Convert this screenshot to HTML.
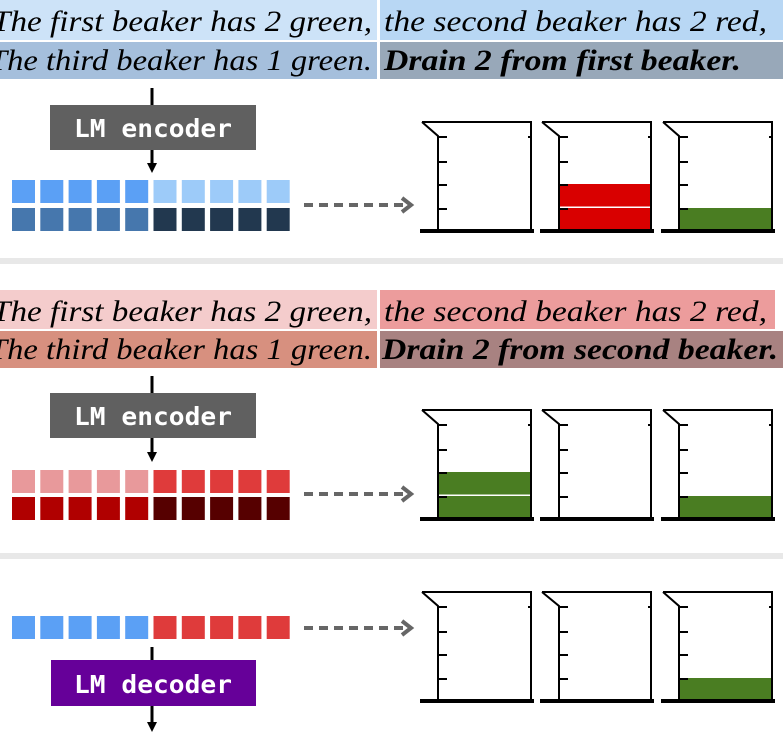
<!DOCTYPE html>
<html><head><meta charset="utf-8">
<style>
html,body{margin:0;padding:0;background:#fff;width:783px;height:744px;overflow:hidden}
svg{display:block}
.t{font-family:"Liberation Serif","Times New Roman",Times,"Noto Serif CJK SC",serif;font-style:italic;font-size:30px;fill:#000}
.b{font-weight:bold}
.box{font-family:"DejaVu Sans Mono","Liberation Mono",monospace;font-weight:bold;font-size:25px;fill:#fff}
</style></head>
<body>
<svg id="fig" width="783" height="744" viewBox="0 0 783 744" xmlns="http://www.w3.org/2000/svg">
<defs>
<marker id="ah" markerWidth="10" markerHeight="10" refX="5" refY="5" orient="auto" markerUnits="userSpaceOnUse">
<path d="M0,0 L10,5 L0,10 z" fill="#000"/></marker>
</defs>
<rect x="0" y="258" width="783" height="6" fill="#e8e8e8"/>
<rect x="0" y="553" width="783" height="6" fill="#e8e8e8"/>

<g>
<rect x="0" y="0" width="377" height="40" fill="#cde3f8"/>
<rect x="380" y="0" width="403" height="40" fill="#b8d7f4"/>
<rect x="0" y="42" width="377" height="37" fill="#a5bfdc"/>
<rect x="380" y="42" width="403" height="37" fill="#98a8b9"/>
<text class="t" x="-8" y="31" textLength="380" lengthAdjust="spacingAndGlyphs">The first beaker has 2 green,</text>
<text class="t" x="384" y="31" textLength="383" lengthAdjust="spacingAndGlyphs">the second beaker has 2 red,</text>
<text class="t" x="-11" y="70" textLength="383" lengthAdjust="spacingAndGlyphs">The third beaker has 1 green.</text>
<text class="t b" x="384" y="70" textLength="357" lengthAdjust="spacingAndGlyphs">Drain 2 from first beaker.</text>
</g>
<g>
<rect x="0" y="290" width="377" height="39" fill="#f4cccc"/>
<rect x="380" y="290" width="395" height="39" fill="#ec9c9c"/>
<rect x="0" y="331" width="377" height="37" fill="#d7907f"/>
<rect x="380" y="331" width="403" height="37" fill="#a88281"/>
<text class="t" x="-8" y="321" textLength="380" lengthAdjust="spacingAndGlyphs">The first beaker has 2 green,</text>
<text class="t" x="384" y="321" textLength="383" lengthAdjust="spacingAndGlyphs">the second beaker has 2 red,</text>
<text class="t" x="-11" y="359" textLength="383" lengthAdjust="spacingAndGlyphs">The third beaker has 1 green.</text>
<text class="t b" x="382" y="359" textLength="396" lengthAdjust="spacingAndGlyphs">Drain 2 from second beaker.</text>
</g>

<line x1="152" y1="88" x2="152" y2="105" stroke="#000" stroke-width="3"/>
<rect x="50" y="105" width="206" height="45" fill="#606060"/>
<text class="box" x="74" y="137" textLength="158" lengthAdjust="spacingAndGlyphs">LM encoder</text>
<line x1="152" y1="150" x2="152" y2="168" stroke="#000" stroke-width="3" marker-end="url(#ah)"/>

<line x1="152" y1="376" x2="152" y2="393" stroke="#000" stroke-width="3"/>
<rect x="50" y="393" width="206" height="45" fill="#606060"/>
<text class="box" x="74" y="425" textLength="158" lengthAdjust="spacingAndGlyphs">LM encoder</text>
<line x1="152" y1="438" x2="152" y2="457" stroke="#000" stroke-width="3" marker-end="url(#ah)"/>

<line x1="152" y1="647" x2="152" y2="660" stroke="#000" stroke-width="3"/>
<rect x="51" y="660" width="205" height="46" fill="#660099"/>
<text class="box" x="74" y="693" textLength="158" lengthAdjust="spacingAndGlyphs">LM decoder</text>
<line x1="152" y1="706" x2="152" y2="727" stroke="#000" stroke-width="3" marker-end="url(#ah)"/>

<g id="dyn"></g>
</svg>
<script>
const NS="http://www.w3.org/2000/svg";
const g=document.getElementById('dyn');
function el(t,a){const e=document.createElementNS(NS,t);for(const k in a)e.setAttribute(k,a[k]);g.appendChild(e);return e;}
const p1Row1=["#5ba0f5","#5ba0f5","#5ba0f5","#5ba0f5","#5ba0f5","#9dcbf9","#9dcbf9","#9dcbf9","#9dcbf9","#9dcbf9"];
const p1Row2=["#4677ad","#4677ad","#4677ad","#4677ad","#4677ad","#22384f","#22384f","#22384f","#22384f","#22384f"];
const p2Row1=["#e8999b","#e8999b","#e8999b","#e8999b","#e8999b","#df3b3b","#df3b3b","#df3b3b","#df3b3b","#df3b3b"];
const p2Row2=["#b00000","#b00000","#b00000","#b00000","#b00000","#560000","#560000","#560000","#560000","#560000"];
const p3Row1=["#5ba0f5","#5ba0f5","#5ba0f5","#5ba0f5","#5ba0f5","#df3b3b","#df3b3b","#df3b3b","#df3b3b","#df3b3b"];
const p1Beakers=[[],["#d90000","#d90000"],["#4a7d22"]];
const p2Beakers=[["#4a7d22","#4a7d22"],[],["#4a7d22"]];
const p3Beakers=[[],[],["#4a7d22"]];

function tokens(row,y){
  row.forEach((c,i)=>{
    const r=el('rect',{x:12+i*28.3,y:y,width:23,height:23,fill:c});
    
    
  });
}
tokens(p1Row1,180);tokens(p1Row2,208);
tokens(p2Row1,470);tokens(p2Row2,497);
tokens(p3Row1,616);

function dashArrow(y){
  const l=el('line',{x1:304,y1:y,x2:404,y2:y,stroke:'#666','stroke-width':4,'stroke-dasharray':'9,6'});
  
  
  el('path',{d:`M402,${y-7} L411,${y} L402,${y+7}`,stroke:'#666','stroke-width':4,fill:'none'});
}
dashArrow(205);dashArrow(494);dashArrow(628);

function beaker(sx,wx,rx,top,contents){
  const base=top+109, unit=24;
  contents.forEach((c,i)=>{
    const r=el('rect',{x:wx+1,y:base-(i+1)*unit+1,width:rx-wx-2,height:unit-1.5,fill:c});
    
    
  });
  const p=el('path',{d:`M${sx},${top} L${wx},${top+14} L${wx},${base} M${sx},${top} L${rx},${top} L${rx},${base}`,stroke:'#000','stroke-width':2,fill:'none'});
  
  
  [15,40,63,87].forEach(d=>el('line',{x1:wx,y1:top+d,x2:wx+9,y2:top+d,stroke:'#000','stroke-width':2}));
  el('line',{x1:rx-3,y1:top+15,x2:rx,y2:top+15,stroke:'#000','stroke-width':2});
  el('line',{x1:sx-2,y1:base,x2:rx+3,y2:base,stroke:'#000','stroke-width':4});
}
function beakers(top,list){
  beaker(422,438,531,top,list[0]);
  beaker(542,559,651,top,list[1]);
  beaker(663,679,772,top,list[2]);
}
beakers(122,p1Beakers);
beakers(410,p2Beakers);
beakers(592,p3Beakers);
</script>
</body></html>
